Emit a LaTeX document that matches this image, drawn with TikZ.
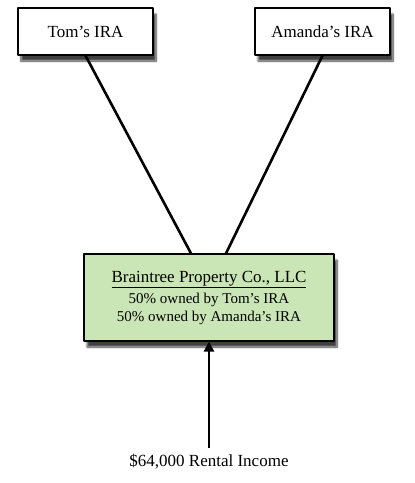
\documentclass[tikz,border=0pt]{standalone}
\usepackage{fontspec}
\setmainfont{Liberation Serif}
\usetikzlibrary{arrows.meta,shadows.blur}
\definecolor{llcgreen}{RGB}{202,230,182}
\begin{document}
\begin{tikzpicture}[x=1pt,y=-1pt,line join=round,
	box/.style={draw,line width=1.2pt,fill=white,minimum width=135pt,minimum height=47pt,
		font=\fontsize{17}{19}\selectfont,
		blur shadow={shadow xshift=3pt,shadow yshift=-6pt,shadow blur steps=10,shadow opacity=75}},
	link/.style={line width=2.6pt},
	>={Triangle[width=10pt,length=10pt]}]
	\useasboundingbox (0,0) rectangle (415,483);
	\node[box] (tom) at (85.5,31.5) {Tom's IRA};
	\node[box] (amanda) at (322.5,31.5) {Amanda's IRA};
	\node[box,fill=llcgreen,minimum width=250pt,minimum height=87pt,align=center] (llc) at (209,297.5)
		{\underline{Braintree Property Co., LLC}\\[2pt]
		{\fontsize{15}{17}\selectfont 50\% owned by Tom's IRA}\\[-1pt]
		{\fontsize{15}{17}\selectfont 50\% owned by Amanda's IRA}};
	\node[font=\fontsize{17}{19}\selectfont] (income) at (209,462) {\$64,000 Rental Income};
	\draw[link] (tom.south) -- ([xshift=-18pt]llc.north);
	\draw[link] (amanda.south) -- ([xshift=17pt]llc.north);
	\draw[link,->,shorten <=3pt] (income.north) -- (llc.south);
\end{tikzpicture}
\end{document}
